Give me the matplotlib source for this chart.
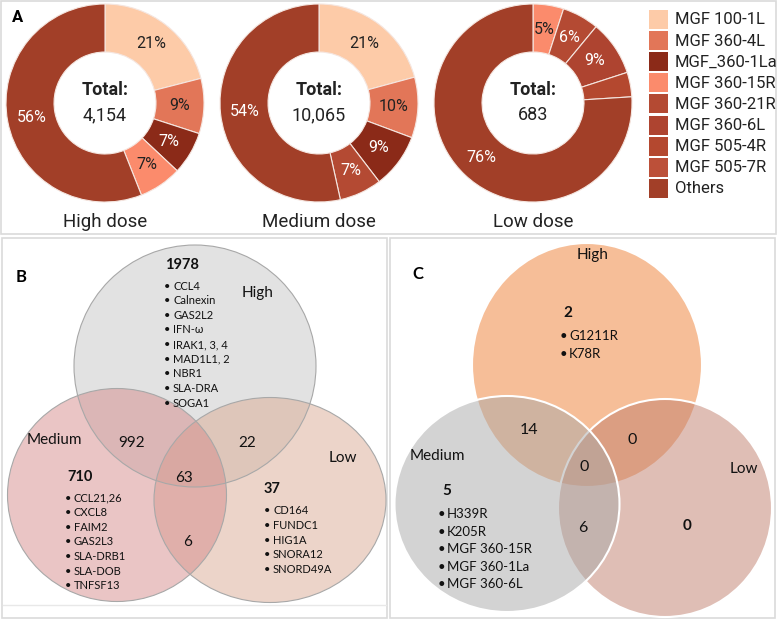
import numpy as np
import matplotlib
matplotlib.use('Agg')
import matplotlib.pyplot as plt
from matplotlib.patches import Ellipse, Rectangle

# ---- panel A: donut data ----
legend_names = ['MGF 100-1L', 'MGF 360-4L', 'MGF_360-1La', 'MGF 360-15R', 'MGF 360-21R',
                'MGF 360-6L', 'MGF 505-4R', 'MGF 505-7R', 'Others']
legend_colors = ['#FDCBA8', '#E27658', '#8B2A18', '#FB8B6C', '#B44A33',
                 '#AE4430', '#B4482F', '#BC5039', '#A23F28']
dose_names = ['High dose', 'Medium dose', 'Low dose']
totals = ['4,154', '10,065', '683']

high_genes = ['MGF 100-1L', 'MGF 360-4L', 'MGF_360-1La', 'MGF 360-15R', 'Others']
high_pct = [21, 9, 7, 7, 56]
med_genes = ['MGF 100-1L', 'MGF 360-4L', 'MGF_360-1La', 'MGF 360-21R', 'Others']
med_pct = [21, 10, 9, 7, 54]
low_genes = ['MGF 360-15R', 'MGF 360-21R', 'MGF 360-6L', 'MGF 505-4R', 'Others']
low_pct = [5, 6, 9, 4, 76]

# ---- panel B: host genes venn ----
b_counts = {'H': 1978, 'M': 710, 'L': 37, 'HM': 992, 'HL': 22, 'ML': 6, 'HML': 63}
b_high_list = ['CCL4', 'Calnexin', 'GAS2L2', 'IFN-ω', 'IRAK1, 3, 4', 'MAD1L1, 2', 'NBR1', 'SLA-DRA', 'SOGA1']
b_med_list = ['CCL21,26', 'CXCL8', 'FAIM2', 'GAS2L3', 'SLA-DRB1', 'SLA-DOB', 'TNFSF13']
b_low_list = ['CD164', 'FUNDC1', 'HIG1A', 'SNORA12', 'SNORD49A']

# ---- panel C: viral genes venn ----
c_counts = {'H': 2, 'M': 5, 'L': 0, 'HM': 14, 'HL': 0, 'ML': 6, 'HML': 0}
c_high_list = ['G1211R', 'K78R']
c_med_list = ['H339R', 'K205R', 'MGF 360-15R', 'MGF 360-1La', 'MGF 360-6L']

W, H = 777, 620
fig = plt.figure(figsize=(W / 100, H / 100), dpi=100)
bg = fig.add_axes([0, 0, 1, 1])
bg.set_xlim(0, W)
bg.set_ylim(H, 0)
bg.axis('off')

A_FONT = ['Roboto', 'DejaVu Sans']
V_FONT = ['Lato', 'DejaVu Sans']

# panel frames
for (x0, y0, x1, y1) in [(1, 1, 776, 234), (2, 238, 387, 618), (390, 238, 775, 618)]:
    bg.add_patch(Rectangle((x0, y0), x1 - x0, y1 - y0, fill=False, ec='#DADADA', lw=1.2))
bg.plot([3, 386], [605, 605], color='#E8E8E8', lw=1)

bg.text(18, 18, 'A', fontsize=12, fontweight='bold', family=A_FONT, ha='center', va='center')

col_of = dict(zip(legend_names, legend_colors))


def lum(c):
    r, g, b = matplotlib.colors.to_rgb(c)
    return 0.299 * r + 0.587 * g + 0.114 * b


centers = [(105, 103), (319, 103), (533, 103)]
R = 99
pies = [(high_genes, high_pct), (med_genes, med_pct), (low_genes, low_pct)]
for k, ((genes, pct), (cx, cy)) in enumerate(zip(pies, centers)):
    ax = fig.add_axes([(cx - R) / W, 1 - (cy + R) / H, 2 * R / W, 2 * R / H])
    cols = [col_of[g] for g in genes]
    wedges, _ = ax.pie(pct, colors=cols, startangle=90, counterclock=False, radius=1,
                       wedgeprops=dict(width=0.485, edgecolor='#F5E6E0', linewidth=0.8))
    ax.set_xlim(-1, 1)
    ax.set_ylim(-1, 1)
    ax.set_aspect('equal')
    ax.axis('off')
    for w, p, c in zip(wedges, pct, cols):
        if p < 5:
            continue
        th = np.deg2rad((w.theta1 + w.theta2) / 2)
        tc = 'white' if lum(c) < 0.5 else '#222222'
        ax.text(0.755 * np.cos(th), 0.755 * np.sin(th), '%d%%' % p, ha='center', va='center',
                fontsize=11.5, color=tc, family=A_FONT)
    ax.text(0, 0.13, 'Total:', ha='center', va='center', fontsize=13, fontweight='bold',
            color='#222222', family=A_FONT)
    ax.text(0, -0.12, totals[k], ha='center', va='center', fontsize=13, color='#222222', family=A_FONT)
    bg.text(cx, 222, dose_names[k], ha='center', va='center', fontsize=13.5, color='#222222', family=A_FONT)

# legend
for i, (name, c) in enumerate(zip(legend_names, legend_colors)):
    y = 10 + i * 21.1
    bg.add_patch(Rectangle((649, y), 19, 19, fc=c, ec='none'))
    bg.text(675, y + 10, name, ha='left', va='center', fontsize=12, color='#222222', family=A_FONT)

# ---- panel B ----
bg.text(21, 277, 'B', fontsize=12, fontweight='bold', family=V_FONT, ha='center', va='center')
b_ell = [((195, 366), 242, 242, (0.886, 0.886, 0.886, 1.0)),
         ((270, 500), 232, 205, (0.86, 0.67, 0.58, 0.5)),
         ((117, 495), 219, 213, (0.84, 0.55, 0.55, 0.5))]
for (xy, w, h, fc) in b_ell:
    bg.add_patch(Ellipse(xy, w, h, fc=fc, ec='none'))
for (xy, w, h, fc) in b_ell:
    bg.add_patch(Ellipse(xy, w, h, fill=False, ec='#A8A8A8', lw=0.8))

tk = dict(family=V_FONT, color='#111111', va='center')
bg.text(165, 265, str(b_counts['H']), fontsize=10.5, fontweight='bold', ha='left', **tk)
bg.text(67, 477, str(b_counts['M']), fontsize=10.5, fontweight='bold', ha='left', **tk)
bg.text(264, 489, str(b_counts['L']), fontsize=10.5, fontweight='bold', ha='left', **tk)
bg.text(132, 443, str(b_counts['HM']), fontsize=11, ha='center', **tk)
bg.text(247, 443, str(b_counts['HL']), fontsize=11, ha='center', **tk)
bg.text(188, 542, str(b_counts['ML']), fontsize=11, ha='center', **tk)
bg.text(184, 478, str(b_counts['HML']), fontsize=11, ha='center', **tk)
bg.text(242, 293, 'High', fontsize=11, ha='left', **tk)
bg.text(27, 440, 'Medium', fontsize=11, ha='left', **tk)
bg.text(329, 458, 'Low', fontsize=11, ha='left', **tk)

for lst, bx, y0 in [(b_high_list, 167, 286), (b_med_list, 68, 498), (b_low_list, 267, 511)]:
    for j, g in enumerate(lst):
        y = y0 + j * 14.65
        bg.text(bx, y, '•', fontsize=8, ha='center', **tk)
        bg.text(bx + 6, y, g, fontsize=8, ha='left', **tk)

# ---- panel C ----
bg.text(418, 274, 'C', fontsize=12, fontweight='bold', family=V_FONT, ha='center', va='center')
c_ell = [((587, 365), 230, 244, (0.965, 0.745, 0.595, 1.0)),
         ((665, 508), 214, 218, (0.757, 0.498, 0.427, 0.5)),
         ((507, 504), 225, 216, (0.663, 0.663, 0.663, 0.5))]
for (xy, w, h, fc) in c_ell:
    bg.add_patch(Ellipse(xy, w, h, fc=fc, ec='white', lw=1.5))

bg.text(563, 313, str(c_counts['H']), fontsize=11, fontweight='bold', ha='left', **tk)
bg.text(442, 491, str(c_counts['M']), fontsize=11, fontweight='bold', ha='left', **tk)
bg.text(687, 526, str(c_counts['L']), fontsize=11, fontweight='bold', ha='center', **tk)
bg.text(529, 430, str(c_counts['HM']), fontsize=11.5, ha='center', **tk)
bg.text(632, 440, str(c_counts['HL']), fontsize=11.5, ha='center', **tk)
bg.text(583, 528, str(c_counts['ML']), fontsize=11.5, ha='center', **tk)
bg.text(584, 467, str(c_counts['HML']), fontsize=11.5, ha='center', **tk)
bg.text(593, 255, 'High', fontsize=11, ha='center', **tk)
bg.text(410, 456, 'Medium', fontsize=11, ha='left', **tk)
bg.text(730, 469, 'Low', fontsize=11, ha='left', **tk)

for lst, bx, y0 in [(c_high_list, 563, 336), (c_med_list, 441, 514)]:
    for j, g in enumerate(lst):
        y = y0 + j * 17.6
        bg.text(bx, y, '•', fontsize=9.5, ha='center', **tk)
        bg.text(bx + 6, y, g, fontsize=9.5, ha='left', **tk)

fig.savefig('out.png', dpi=100)
